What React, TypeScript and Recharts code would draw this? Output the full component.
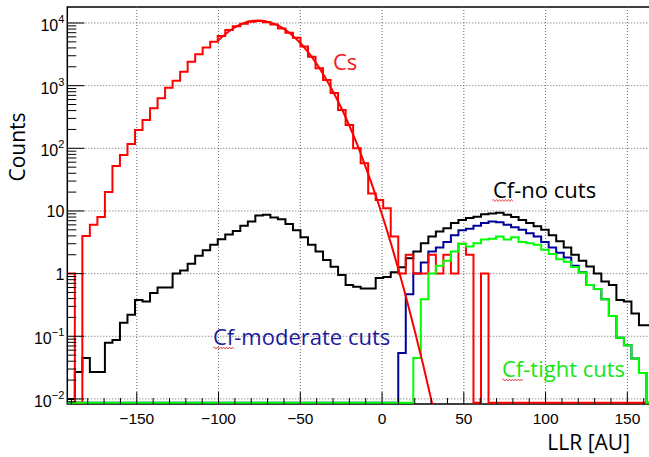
import React from 'react';
import { LineChart, Line, XAxis, YAxis, ReferenceLine, ReferenceArea } from 'recharts';

// fixed-width LLR bins, as in the ROOT histograms
const BIN_START = -192.5;
const BIN_WIDTH = 4.6;

const X_DOMAIN: [number, number] = [-192.5, 166.3];
const Y_DOMAIN: [number, number] = [0.0083, 18000];
// empty bins are drawn on the bottom of the frame
const EMPTY_BIN = 0.0087;

const csCounts = [
  1, 0, 4, 6, 8, 20, 52, 78, 117, 196,
  284, 436, 630, 930, 1200, 1670, 2400, 3170, 4070, 5000,
  6200, 7750, 8900, 9700, 10500, 10800, 10300, 9500, 8200, 7000,
  5800, 4200, 2900, 1900, 1230, 760, 410, 236, 100, 58,
  19, 15, 11, 3.9, 1, 2, 1, 1, 2, 1,
  2, 1, 3, 2, 0, 1, 0, 0, 0, 0,
  0, 0, 0, 0, 0, 0, 0, 0, 0, 0,
  0, 0, 0, 0, 0, 0, 0, 0,
];

const cfNoCuts = [
  0.01, 0.027, 0.045, 0.027, 0.027, 0.079, 0.087, 0.165, 0.22, 0.38,
  0.36, 0.49, 0.6, 0.6, 1.0, 1.12, 1.44, 1.92, 2.36, 2.9,
  3.55, 4.2, 4.8, 5.8, 6.8, 8.5, 8.7, 7.9, 7.4, 6.2,
  4.9, 3.8, 2.9, 2.25, 1.65, 1.29, 0.95, 0.66, 0.62, 0.58,
  0.58, 0.85, 0.88, 1.05, 1.26, 1.76, 2.25, 3.05, 3.9, 4.7,
  5.3, 6.4, 7.2, 7.7, 8.1, 8.9, 9.1, 9.4, 8.7, 8.0,
  7.2, 6.4, 5.7, 5.0, 4.1, 3.3, 2.6, 2.0, 1.6, 1.3,
  1.0, 0.75, 0.66, 0.38, 0.36, 0.23, 0.15, 0.15,
];

const cfModerateCuts = [
  0, 0, 0, 0, 0, 0, 0, 0, 0, 0,
  0, 0, 0, 0, 0, 0, 0, 0, 0, 0,
  0, 0, 0, 0, 0, 0, 0, 0, 0, 0,
  0, 0, 0, 0, 0, 0, 0, 0, 0, 0,
  0, 0, 0, 0, 0.054, 0.47, 1.0, 1.5, 2.25, 2.6,
  3.2, 4.1, 4.9, 5.2, 5.8, 6.4, 6.8, 6.6, 6.0, 5.5,
  5.0, 4.4, 3.9, 3.2, 2.6, 2.15, 1.8, 1.33, 1.05, 0.66,
  0.57, 0.39, 0.21, 0.095, 0.072, 0.044, 0.026, 0,
];

const cfTightCuts = [
  0, 0, 0, 0, 0, 0, 0, 0, 0, 0,
  0, 0, 0, 0, 0, 0, 0, 0, 0, 0,
  0, 0, 0, 0, 0, 0, 0, 0, 0, 0,
  0, 0, 0, 0, 0, 0, 0, 0, 0, 0,
  0, 0, 0, 0, 0, 0, 0.045, 0.39, 1.0, 1.33,
  1.6, 2.25, 3.0, 2.7, 3.05, 3.5, 3.6, 3.9, 3.5, 3.8,
  3.2, 3.05, 2.9, 2.4, 2.05, 1.7, 1.55, 1.28, 1.04, 0.66,
  0.57, 0.39, 0.21, 0.095, 0.072, 0.044, 0.026, 0,
];

// gaussian fit on the Cs peak
const csFitX = [-100, -95, -90, -85, -80, -75, -70, -65, -60, -55, -50, -45, -40, -35, -30, -25, -20, -15, -10, -5, 0, 5, 10, 15, 20, 25, 30, 32];
const csFitY = [5300, 6930, 8530, 9860, 10720, 10960, 10510, 9480, 8040, 6400, 4800, 3370, 2230, 1380, 807, 443, 229, 111, 50, 21.5, 8.7, 3.3, 1.16, 0.39, 0.121, 0.036, 0.0099, 0.0058];

const xMajorTicks = [-150, -100, -50, 0, 50, 100, 150];
const xTickLabels = ['\u2212150', '\u2212100', '\u221250', '0', '50', '100', '150'];
const yDecades = [0.01, 0.1, 1, 10, 100, 1000, 10000];
const yDecadeLabels: [string, string][] = [
  ['10', '\u22122'], ['10', '\u22121'], ['1', ''], ['10', ''], ['10', '2'], ['10', '3'], ['10', '4'],
];

const toSteps = (values: number[]) => {
  const pts = values.map((v, i) => ({ x: BIN_START + i * BIN_WIDTH, y: v > 0 ? v : EMPTY_BIN }));
  pts.push({ x: BIN_START + values.length * BIN_WIDTH, y: pts[pts.length - 1].y });
  return pts;
};

const fitData = csFitX.map((x, i) => ({ x, y: csFitY[i] }));

const xTicks: number[] = [];
for (let t = -190; t <= 160; t += 10) xTicks.push(t);

const yTicks: number[] = [0.009];
yDecades.forEach((d) => {
  for (let m = 1; m <= 9; m++) {
    const v = m * d;
    if (v <= Y_DOMAIN[1]) yTicks.push(v);
  }
});

const tickFont = '"Liberation Sans", Arial, Helvetica, sans-serif';
const labelFont = '"Open Sans", "Noto Sans", sans-serif';

const XTick = (props: any) => {
  const { x, y, payload } = props;
  const v = payload.value;
  const idx = xMajorTicks.indexOf(v);
  const major = idx >= 0;
  return (
    <g>
      <line x1={x} x2={x} y1={y} y2={y - (major ? 12 : 6)} stroke="#000" strokeWidth={1} />
      {major && (
        <text x={x} y={y + 20} textAnchor="middle" fontSize={15.5} fontFamily={tickFont} fill="#000">
          {xTickLabels[idx]}
        </text>
      )}
    </g>
  );
};

const YTick = (props: any) => {
  const { x, y, payload } = props;
  const v = payload.value;
  const idx = yDecades.findIndex((d) => Math.abs(Math.log10(d) - Math.log10(v)) < 1e-6);
  const major = idx >= 0;
  const [base, exp] = major ? yDecadeLabels[idx] : ['', ''];
  return (
    <g>
      <line x1={x} x2={x + (major ? 17 : 9)} y1={y} y2={y} stroke="#000" strokeWidth={1} />
      {major && (
        <text x={x - 3} y={y + (exp ? 8 : 6)} textAnchor="end" fontSize={16} fontFamily={tickFont} fill="#000">
          {base}
          {exp && (
            <tspan dy={-8} fontSize={11}>
              {exp}
            </tspan>
          )}
        </text>
      )}
    </g>
  );
};

const squiggle = (x0: number, x1: number, y: number) => {
  let d = `M${x0},${y}`;
  let up = true;
  for (let x = x0 + 1.5; x <= x1; x += 1.5) {
    d += ` L${x},${up ? y - 1 : y + 1}`;
    up = !up;
  }
  return d;
};

export default function App() {
  return (
    <div style={{ position: 'absolute', left: 0, top: 0, width: 649, height: 457, overflow: 'hidden', background: '#fff' }}>
      <LineChart width={660} height={457} margin={{ top: 7, right: 6, bottom: 13, left: 7.3 }}>
        <XAxis
          type="number"
          dataKey="x"
          domain={X_DOMAIN}
          allowDataOverflow
          ticks={xTicks}
          interval={0}
          tickLine={false}
          axisLine={false}
          tickSize={0}
          tickMargin={0}
          height={40}
          tick={<XTick />}
        />
        <YAxis
          type="number"
          scale="log"
          domain={Y_DOMAIN}
          allowDataOverflow
          ticks={yTicks}
          interval={0}
          tickLine={false}
          axisLine={false}
          tickSize={0}
          tickMargin={0}
          width={60}
          tick={<YTick />}
        />
        {xMajorTicks.map((t) => (
          <ReferenceLine key={`gx${t}`} x={t} stroke="#666" strokeDasharray="1 2" strokeWidth={1} />
        ))}
        {yDecades.map((d) => (
          <ReferenceLine key={`gy${d}`} y={d} stroke="#666" strokeDasharray="1 2" strokeWidth={1} />
        ))}
        <ReferenceArea
          x1={X_DOMAIN[0]}
          x2={X_DOMAIN[1]}
          y1={Y_DOMAIN[0]}
          y2={Y_DOMAIN[1]}
          fill="none"
          fillOpacity={0}
          stroke="#000"
          strokeWidth={1.5}
        />
        <Line data={toSteps(cfNoCuts)} dataKey="y" type="stepAfter" stroke="#000000" strokeWidth={2} dot={false} isAnimationActive={false} />
        <Line data={toSteps(cfModerateCuts)} dataKey="y" type="stepAfter" stroke="#000099" strokeWidth={2} dot={false} isAnimationActive={false} />
        <Line data={toSteps(csCounts)} dataKey="y" type="stepAfter" stroke="#ff0000" strokeWidth={2} dot={false} isAnimationActive={false} />
        <Line data={toSteps(cfTightCuts)} dataKey="y" type="stepAfter" stroke="#00ff00" strokeWidth={2} dot={false} isAnimationActive={false} />
        <Line data={fitData} dataKey="y" type="monotone" stroke="#ff0000" strokeWidth={2} dot={false} isAnimationActive={false} />
      </LineChart>
      <svg width={649} height={457} style={{ position: 'absolute', left: 0, top: 0, pointerEvents: 'none' }}>
        <text transform="translate(25,147) rotate(-90)" textAnchor="middle" fontSize={21} fontFamily={labelFont} fill="#000">
          Counts
        </text>
        <text x={630} y={450} textAnchor="end" fontSize={21} fontFamily={labelFont} fill="#000">
          LLR [AU]
        </text>
        <text x={333} y={70} fontSize={22} fontFamily={labelFont} fill="#f21a1a">
          Cs
        </text>
        <text x={493} y={198} fontSize={22} fontFamily={labelFont} fill="#000">
          Cf-no cuts
        </text>
        <text x={213} y={345} fontSize={22} fontFamily={labelFont} fill="#1a1a9e">
          Cf-moderate cuts
        </text>
        <text x={502} y={376.5} fontSize={22} fontFamily={labelFont} fill="#14e614">
          Cf-tight cuts
        </text>
        <path d={squiggle(492, 513, 200.5)} stroke="#e03030" strokeWidth={0.8} fill="none" />
        <path d={squiggle(213, 235, 348)} stroke="#e03030" strokeWidth={0.8} fill="none" />
        <path d={squiggle(502, 523, 380)} stroke="#e03030" strokeWidth={0.8} fill="none" />
      </svg>
    </div>
  );
}
